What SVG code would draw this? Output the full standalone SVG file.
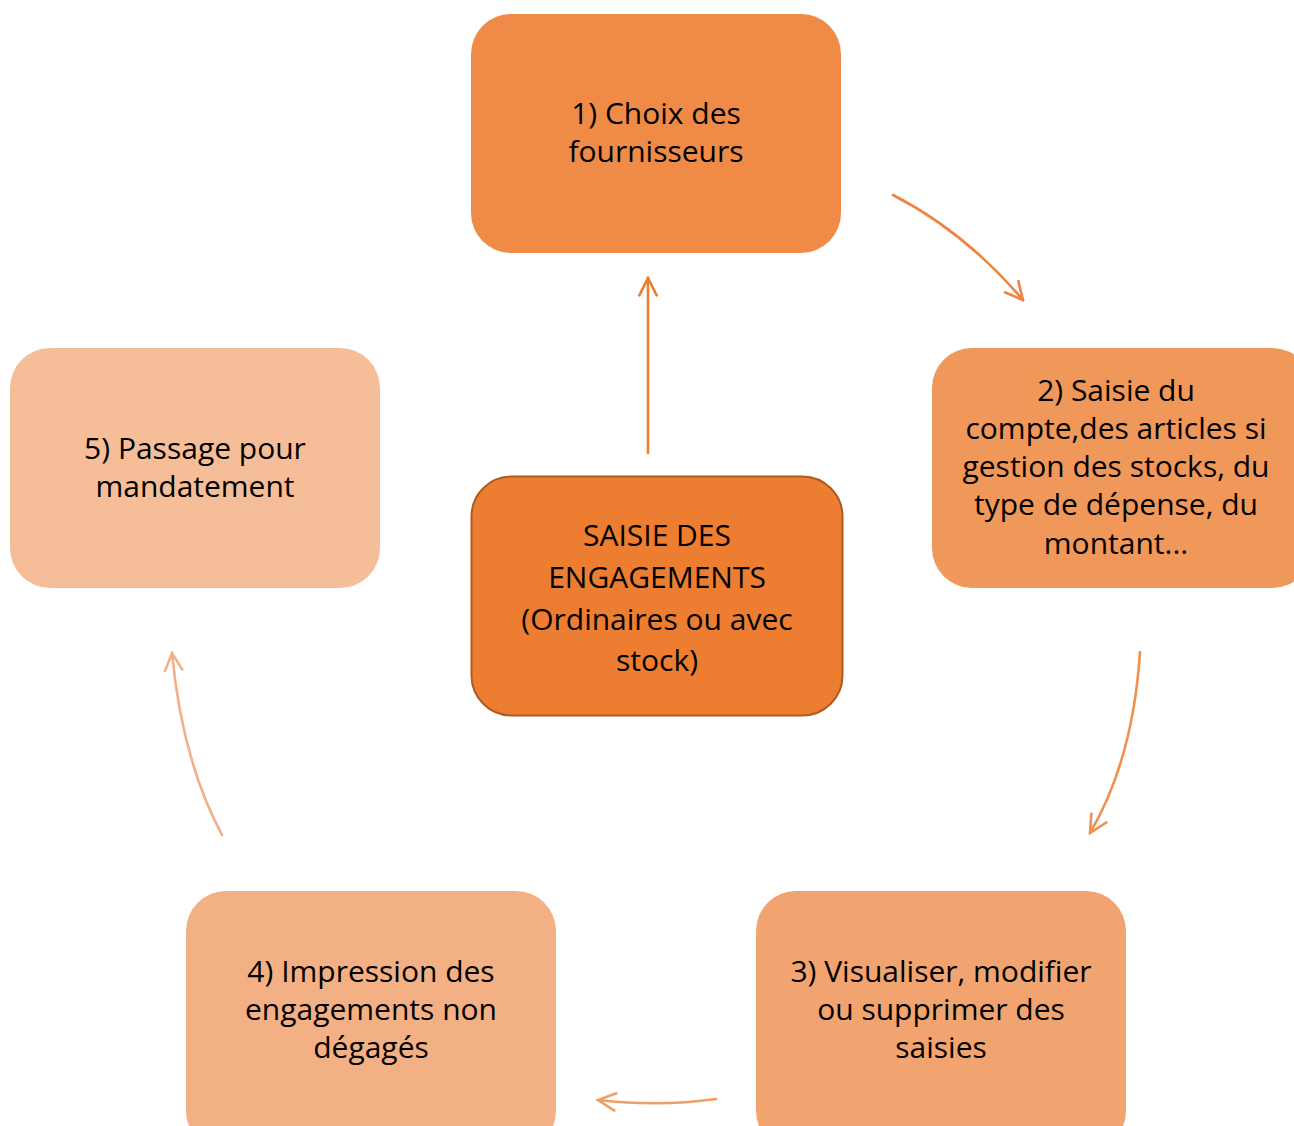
<svg xmlns="http://www.w3.org/2000/svg" width="1294" height="1126" viewBox="0 0 1294 1126">
<style>
text{font-family:"Open Sans","Noto Sans","Liberation Sans",sans-serif;font-size:30px;fill:#000;text-anchor:middle}
.c{font-size:30px}
.a{fill:none;stroke-width:2.6;stroke-linecap:round}
</style>
<defs>
<marker id="m2" viewBox="0 0 12 12" refX="11" refY="6" markerWidth="22" markerHeight="22" markerUnits="userSpaceOnUse" orient="auto"><path d="M1,1 L11,6 L1,11" fill="none" stroke="#EE8440" stroke-width="1.4"/></marker>
<marker id="m1" viewBox="0 0 12 12" refX="11" refY="6" markerWidth="22" markerHeight="22" markerUnits="userSpaceOnUse" orient="auto"><path d="M1,1 L11,6 L1,11" fill="none" stroke="#ED7D31" stroke-width="1.4"/></marker>
<marker id="m3" viewBox="0 0 12 12" refX="11" refY="6" markerWidth="22" markerHeight="22" markerUnits="userSpaceOnUse" orient="auto"><path d="M1,1 L11,6 L1,11" fill="none" stroke="#EF9152" stroke-width="1.4"/></marker>
<marker id="m4" viewBox="0 0 12 12" refX="11" refY="6" markerWidth="22" markerHeight="22" markerUnits="userSpaceOnUse" orient="auto"><path d="M1,1 L11,6 L1,11" fill="none" stroke="#F19E65" stroke-width="1.4"/></marker>
<marker id="m5" viewBox="0 0 12 12" refX="11" refY="6" markerWidth="22" markerHeight="22" markerUnits="userSpaceOnUse" orient="auto"><path d="M1,1 L11,6 L1,11" fill="none" stroke="#F3AF88" stroke-width="1.4"/></marker>
</defs>
<rect width="1294" height="1126" fill="#fff"/>
<g id="connectors">
<path class="a" d="M648,453 L648,278" stroke="#ED7D31" marker-end="url(#m1)"/>
<path class="a" d="M893,195 Q965,232 1023,300" stroke="#EE8440" marker-end="url(#m2)"/>
<path class="a" d="M1140,652 Q1133,760 1090,833" stroke="#EF9152" marker-end="url(#m3)"/>
<path class="a" d="M716,1099 Q660,1107 598,1100" stroke="#F19E65" marker-end="url(#m4)"/>
<path class="a" d="M222,835 Q182,760 172,653" stroke="#F3AF88" marker-end="url(#m5)"/>
</g>
<g id="node1">
<rect x="471" y="14" width="370" height="239" rx="40" fill="#EF8B47"/>
<text x="656" y="124">1) Choix des</text>
<text x="656" y="162">fournisseurs</text>
</g>
<g id="node2">
<rect x="932" y="348" width="380" height="240" rx="40" fill="#F0975A"/>
<text x="1116" y="401">2) Saisie du</text>
<text x="1116" y="439">compte,des articles si</text>
<text x="1116" y="477">gestion des stocks, du</text>
<text x="1116" y="515">type de dépense, du</text>
<text x="1116" y="554">montant...</text>
</g>
<g id="node3">
<rect x="756" y="891" width="370" height="260" rx="40" fill="#F1A46F"/>
<text x="941" y="982">3) Visualiser, modifier</text>
<text x="941" y="1020">ou supprimer des</text>
<text x="941" y="1058">saisies</text>
</g>
<g id="node4">
<rect x="186" y="891" width="370" height="260" rx="40" fill="#F3B084"/>
<text x="371" y="982">4) Impression des</text>
<text x="371" y="1020">engagements non</text>
<text x="371" y="1058">dégagés</text>
</g>
<g id="node5">
<rect x="10" y="348" width="370" height="240" rx="40" fill="#F5BE98"/>
<text x="195" y="459">5) Passage pour</text>
<text x="195" y="497">mandatement</text>
</g>
<g id="center">
<rect x="471.5" y="476.5" width="371" height="239" rx="40" fill="#ED7D31" stroke="#AE5A21" stroke-width="2"/>
<text class="c" x="657" y="546">SAISIE DES</text>
<text class="c" x="657" y="588">ENGAGEMENTS</text>
<text class="c" x="657" y="630">(Ordinaires ou avec</text>
<text class="c" x="657" y="671">stock)</text>
</g>
</svg>
